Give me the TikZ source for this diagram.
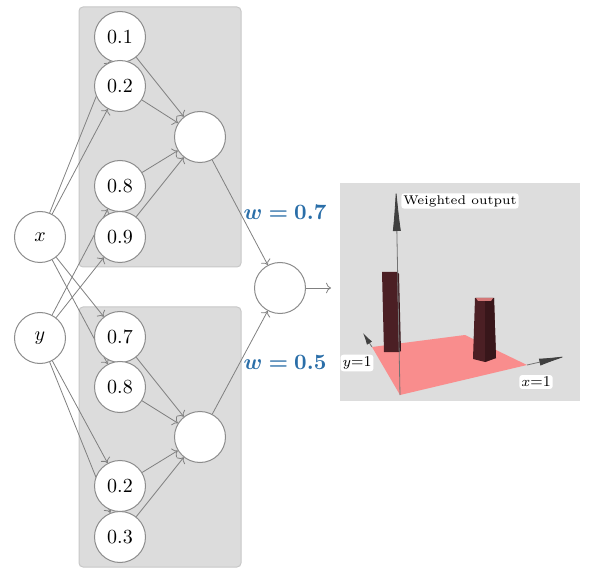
\documentclass[tikz,border=0pt]{standalone}
\usepackage{amsmath}
\usepackage{bm}
\usetikzlibrary{arrows,arrows.meta,backgrounds}
\definecolor{wblue}{HTML}{2A6EA8}
\definecolor{boxgrey}{HTML}{DCDCDC}
\definecolor{plotgrey}{HTML}{DDDDDD}
\definecolor{floorpink}{HTML}{F98D8D}
\definecolor{towerred}{HTML}{4B1F24}
\definecolor{towerside}{HTML}{38161A}
\tikzset{
    neuron/.style = {
        circle,
        draw=black!45,
        fill=white,
        line width=0.5pt,
        minimum size=25.5pt,
        inner sep=0pt,
        font=\normalsize
    },
    hiddenbox/.style = {
        draw=black!22,
        fill=boxgrey,
        rounded corners=2pt,
        line width=0.5pt
    },
    link/.style = {
        draw=black!50,
        line width=0.4pt,
        ->
    },
    weightlabel/.style = {
        text=wblue,
        font=\fontsize{10.5pt}{12pt}\selectfont
    },
    plotlabel/.style = {
        fill=white,
        rounded corners=1.5pt,
        inner sep=1pt,
        font=\fontsize{6.3pt}{7.5pt}\selectfont
    },
    axislabel/.style = {
        plotlabel,
        font=\fontsize{7.5pt}{9pt}\selectfont
    },
    axisline/.style = {
        draw=black!55,
        line width=0.4pt
    }
}

\begin{document}
\begin{tikzpicture}[x=0.5pt, y=-0.5pt]
    \useasboundingbox (0,0) rectangle (589,577);
    % inputs
    \node [neuron] (x) at (40,237) {$x$};
    \node [neuron] (y) at (40,338) {$y$};
    % top block
    \node [neuron] (t1) at (120,37) {0.1};
    \node [neuron] (t2) at (120,86) {0.2};
    \node [neuron] (t3) at (120,186) {0.8};
    \node [neuron] (t4) at (120,237) {0.9};
    \node [neuron] (tsum) at (200,137) {};
    % bottom block
    \node [neuron] (b1) at (120,337) {0.7};
    \node [neuron] (b2) at (120,387) {0.8};
    \node [neuron] (b3) at (120,486) {0.2};
    \node [neuron] (b4) at (120,537) {0.3};
    \node [neuron] (bsum) at (200,437) {};
    % output
    \node [neuron] (out) at (280,288) {};
    \coordinate (outend) at (331,288);
    \node [weightlabel] (w1) at (285,212) {$\bm{w = 0.7}$};
    \node [weightlabel] (w2) at (285,362) {$\bm{w = 0.5}$};
    \begin{scope}[on background layer]
        \draw [hiddenbox] (79,7) rectangle (241,267);
        \draw [hiddenbox] (79,307) rectangle (241,567);
        \foreach \n in {t1,t2,b1,b2} \draw [link] (x) -- (\n);
        \foreach \n in {t3,t4,b3,b4} \draw [link] (y) -- (\n);
        \foreach \n in {t1,t2,t3,t4} \draw [link] (\n) -- (tsum);
        \foreach \n in {b1,b2,b3,b4} \draw [link] (\n) -- (bsum);
        \draw [link] (tsum) -- (out);
        \draw [link] (bsum) -- (out);
    \end{scope}
    \draw [link] (out) -- (outend);
    % weighted output plot
    \fill [plotgrey] (340,183) rectangle (580,401);
    \fill [floorpink] (372,347) -- (465,335) -- (527,365) -- (400,395) -- cycle;
    \fill [towerred] (382,272) -- (397,272) -- (399,352) -- (384,352) -- cycle;
    \fill [towerside] (397,272) -- (399,274) -- (401,351) -- (399,352) -- cycle;
    \fill [towerred] (475,298) -- (494,298) -- (496,358) -- (485,362) -- (473,359) -- cycle;
    \fill [towerside] (485,300) -- (494,298) -- (496,358) -- (485,362) -- cycle;
    \fill [floorpink!85!black] (476,298) -- (493,298) -- (491,301) -- (478,301) -- cycle;
    \draw [axisline, -{Latex[length=22pt,width=4pt,color=black!75]}] (400,395) -- (396,187);
    \draw [axisline, -{Latex[length=14pt,width=3.5pt,color=black!75]}] (527,365) -- (567,356);
    \draw [axisline, -{Latex[length=6pt,width=3pt,color=black!75]}] (372,347) -- (363,333);
    \node [plotlabel] (zlab) at (460,201) {Weighted output};
    \node [axislabel] (ylab) at (357,363) {$y$=1};
    \node [axislabel] (xlab) at (536,382) {$x$=1};
\end{tikzpicture}
\end{document}
